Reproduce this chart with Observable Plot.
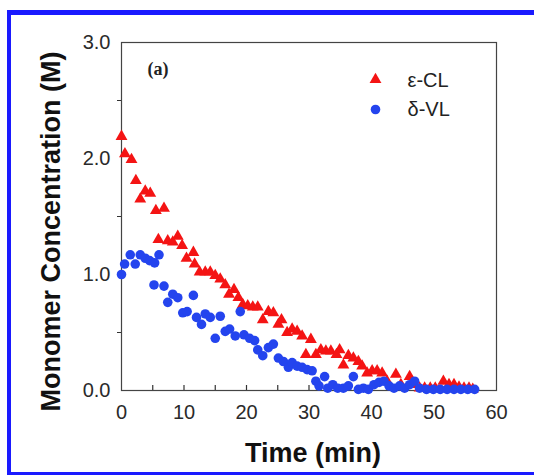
<!DOCTYPE html>
<html>
<head>
<meta charset="utf-8">
<script src="https://cdn.jsdelivr.net/npm/d3@7"></script>
<script src="https://cdn.jsdelivr.net/npm/@observablehq/plot@0.6"></script>
<style>
  html, body { margin: 0; padding: 0; background: #fff; }
  #wrap { position: relative; width: 534px; height: 475px; overflow: hidden; }
  #border { position: absolute; left: 7px; top: 10px; width: 540px; height: 465px;
    box-sizing: border-box; border-left: 4px solid #1a1aff; border-top: 5px solid #1a1aff;
    border-bottom: 3px solid #1a1aff; pointer-events: none; }
</style>
</head>
<body>
<div id="wrap"><div id="border"></div></div>
<script>
// ε-CL (triangles)
const tCL = [0,0.55,1.6,2.3,3,3.8,4.6,5.5,5.9,6.8,7.4,8.2,9,9.7,10.4,11.5,11.7,12.5,13.4,14.2,15,15.8,16.6,17.2,18,18.7,19.4,20.2,21,21.8,22.6,23.5,24.3,25.1,25.6,26.5,27.3,28.1,28.9,29.5,30.3,31.1,31.9,32.7,33.5,34.4,34.9,35.5,36.3,37.1,37.9,38.5,39.3,40.1,40.9,41.7,42.5,43.9,44.7,46.1,46.9,47.7,48.5,49.4,50.2,51.5,52.4,53.2,54,54.8,55.6,56.2];
const cCL = [2.19,2.04,1.99,1.81,1.65,1.72,1.70,1.55,1.30,1.57,1.29,1.28,1.33,1.25,1.14,1.19,1.09,1.02,1.02,1.02,0.99,0.96,0.91,0.83,0.87,0.80,0.74,0.73,0.72,0.72,0.61,0.68,0.67,0.57,0.61,0.50,0.53,0.51,0.47,0.31,0.44,0.31,0.35,0.34,0.34,0.31,0.35,0.22,0.30,0.28,0.25,0.21,0.15,0.17,0.17,0.15,0.08,0.14,0.05,0.12,0.05,0.02,0.02,0.02,0.02,0.08,0.05,0.05,0.03,0.02,0.02,0.01];
// δ-VL (circles)
const tVL = [0,0.5,1.4,2.2,3,3.8,4.5,5.2,5.3,6,6.8,7.4,8.2,9,9.8,10.5,11.5,12,12.8,13.4,14.2,15,15.8,16.6,17.3,18.2,19,19.6,20.5,21.3,21.8,22.6,23.5,24.3,25.1,25.9,26.7,27.3,28.1,28.9,29.7,30.5,31.1,31.6,32.5,33,33.8,34.6,35.5,36.3,37.1,37.9,38.7,39.5,40.4,41.2,42,42.8,43.6,44.5,45.3,46.1,46.9,47.7,48.8,49.9,51,52.1,53.2,54.3,55.4,56.5];
const cVL = [1.00,1.09,1.17,1.09,1.17,1.14,1.12,0.91,1.10,1.17,0.90,0.76,0.83,0.80,0.67,0.68,0.82,0.63,0.57,0.66,0.63,0.45,0.64,0.51,0.53,0.47,0.68,0.48,0.45,0.43,0.35,0.30,0.37,0.40,0.28,0.25,0.20,0.24,0.21,0.20,0.18,0.17,0.08,0.04,0.12,0.02,0.05,0.02,0.02,0.04,0.12,0.01,0.02,0.01,0.05,0.07,0.08,0.04,0.02,0.04,0.02,0.05,0.08,0.02,0.01,0.01,0.01,0.01,0.01,0.01,0.01,0.01];

const xTickLabels = [0,10,20,30,40,50,60];
const xTicksAll = [5,10,15,20,25,30,35,40,45,50,55];
const yTickLabels = [0,1,2,3];
const yTicksAll = [0.5,1.5,2.5];
const seriesNames = ["ε-CL","δ-VL"];
const panelLabel = "(a)";
const xTitle = "Time (min)";
const yTitle = "Monomer Concentration (M)";

const RED = "#f41414";
const BLUE = "#2444ee";

const cl = tCL.map((t,i) => ({t, c: cCL[i]}));
const vl = tVL.map((t,i) => ({t, c: cVL[i]}));

const font = "'Liberation Sans', Arial, sans-serif";

const chart = Plot.plot({
  width: 534,
  height: 475,
  marginLeft: 121,
  marginRight: 38,
  marginTop: 42,
  marginBottom: 85,
  style: {fontFamily: font, background: "transparent", overflow: "visible"},
  x: {domain: [0, 60]},
  y: {domain: [0, 3]},
  marks: [
    Plot.frame({stroke: "#444", strokeWidth: 1.2}),
    Plot.gridX(xTicksAll, {stroke: "#333", strokeOpacity: 1, strokeWidth: 1.2, insetTop: 343}),
    Plot.axisX({ticks: xTickLabels, tickSize: 0, tickPadding: 14, fontSize: 20, color: "#2a2a2a", label: null, tickFormat: d => String(d)}),
    Plot.axisY({ticks: yTickLabels, tickSize: 0, tickPadding: 11, fontSize: 20, color: "#2a2a2a", label: null, tickFormat: d => d.toFixed(1)}),
    Plot.axisY({ticks: yTicksAll, tickSize: 4, stroke: "#333", label: null, tickFormat: () => ""}),
    Plot.text([xTitle], {text: d => d, frameAnchor: "bottom", dx: 4, dy: 63, textAnchor: "middle", lineAnchor: "middle", fontSize: 27, fontWeight: "bold", fill: "#111"}),
    Plot.text([yTitle], {text: d => d, frameAnchor: "left", rotate: -90, dx: -70, dy: 15, textAnchor: "middle", lineAnchor: "middle", fontSize: 27, fontWeight: "bold", fill: "#111"}),
    Plot.text([panelLabel], {text: d => d, frameAnchor: "top-left", dx: 26, dy: 27, textAnchor: "start", lineAnchor: "middle", fontSize: 18, fontWeight: "bold", fontFamily: "'Liberation Serif', 'Times New Roman', serif", fill: "#222"}),
    Plot.dot(cl, {x: "t", y: "c", symbol: "triangle", r: 4.4, fill: RED, stroke: "none"}),
    Plot.dot(vl, {x: "t", y: "c", symbol: "circle", r: 4.8, fill: BLUE, stroke: "none"}),
    Plot.dot([seriesNames[0]], {frameAnchor: "top-right", dx: -121, dy: 37, symbol: "triangle", r: 4.4, fill: RED, stroke: "none"}),
    Plot.dot([seriesNames[1]], {frameAnchor: "top-right", dx: -121, dy: 67, symbol: "circle", r: 4.8, fill: BLUE, stroke: "none"}),
    Plot.text([seriesNames[0]], {text: d => d, frameAnchor: "top-right", dx: -89, dy: 38, textAnchor: "start", lineAnchor: "middle", fontSize: 20, fill: "#222"}),
    Plot.text([seriesNames[1]], {text: d => d, frameAnchor: "top-right", dx: -89, dy: 67, textAnchor: "start", lineAnchor: "middle", fontSize: 20, fill: "#222"})
  ]
});
document.getElementById("wrap").insertBefore(chart, document.getElementById("border"));
chart.style.position = "absolute";
chart.style.left = "0";
chart.style.top = "0";
</script>
</body>
</html>
